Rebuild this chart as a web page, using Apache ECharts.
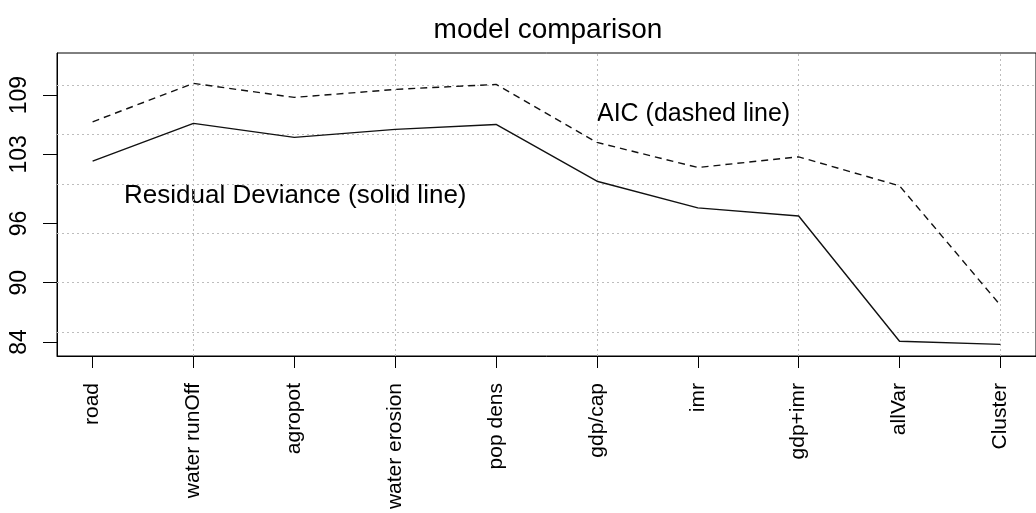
<!DOCTYPE html>
<html>
<head>
<meta charset="utf-8">
<script src="https://cdn.jsdelivr.net/npm/echarts@6/dist/echarts.min.js"></script>
<style>
html,body{margin:0;padding:0;background:#fff;}
#chart{width:1036px;height:513px;}
</style>
</head>
<body>
<div id="chart"></div>
<script>
const categories = ['road','water runOff','agropot','water erosion','pop dens','gdp/cap','imr','gdp+imr','allVar','Cluster'];
const aicValues = [106.3, 110.19, 108.77, 109.58, 110.09, 104.21, 101.67, 102.75, 99.81, 87.71];
const devianceValues = [102.31, 106.14, 104.72, 105.53, 106.03, 100.28, 97.58, 96.76, 84.06, 83.75];
const yTickLabels = [84, 90, 96, 103, 109];
const yGridValues = [85, 90, 95, 100, 105, 110];
const xGridIndices = [1, 3, 5, 7, 9];
const titleText = 'model comparison';
const aicNote = 'AIC (dashed line)';
const devNote = 'Residual Deviance (solid line)';

const FONT = '"Liberation Sans", Arial, sans-serif';
const idx = categories.map((c, i) => i);
const chart = echarts.init(document.getElementById('chart'), null, {renderer: 'canvas'});

const gridLineStyle = {type: [2, 3], color: '#bdbdbd', width: 1};
const markData = xGridIndices.map(i => ({xAxis: i})).concat(yGridValues.map(v => ({yAxis: v})));

chart.setOption({
  animation: false,
  backgroundColor: '#fff',
  grid: {left: 57, top: 53, right: -3, bottom: 157, show: true, borderColor: '#000', borderWidth: 1, backgroundColor: 'transparent'},
  xAxis: {
    type: 'value', min: -0.353, max: 9.353,
    axisLine: {show: true, onZero: false, lineStyle: {color: '#000', width: 1}},
    axisTick: {show: true, customValues: idx, length: 12, lineStyle: {color: '#000'}},
    axisLabel: {customValues: idx, rotate: 90, margin: 27, fontSize: 21, color: '#000', fontFamily: FONT,
      formatter: v => categories[Math.round(v)]},
    splitLine: {show: false}
  },
  yAxis: {
    type: 'value', min: 82.57, max: 113.27,
    axisLine: {show: true, onZero: false, lineStyle: {color: '#000', width: 1}},
    axisTick: {show: true, customValues: yTickLabels, length: 14, lineStyle: {color: '#000'}},
    axisLabel: {customValues: yTickLabels, rotate: 90, margin: 26, fontSize: 23, color: '#000', fontFamily: FONT},
    splitLine: {show: false}
  },
  graphic: [
    {type: 'text', x: 548, y: 30, style: {text: titleText, font: '28px ' + FONT, align: 'center', verticalAlign: 'middle', fill: '#000'}},
    {type: 'text', x: 597, y: 114, style: {text: aicNote, font: '25px ' + FONT, align: 'left', verticalAlign: 'middle', fill: '#000'}},
    {type: 'text', x: 124, y: 196, style: {text: devNote, font: '26px ' + FONT, align: 'left', verticalAlign: 'middle', fill: '#000'}}
  ],
  series: [
    {
      type: 'line', name: 'AIC', data: aicValues.map((v, i) => [i, v]),
      showSymbol: false, symbol: 'none',
      lineStyle: {color: '#111', width: 1.4, type: [7, 5]},
      z: 3,
      markLine: {silent: true, symbol: ['none', 'none'], label: {show: false}, lineStyle: gridLineStyle, data: markData, z: 1, animation: false}
    },
    {
      type: 'line', name: 'Residual Deviance', data: devianceValues.map((v, i) => [i, v]),
      showSymbol: false, symbol: 'none',
      lineStyle: {color: '#111', width: 1.4, type: 'solid'},
      z: 3
    }
  ]
});
</script>
</body>
</html>
